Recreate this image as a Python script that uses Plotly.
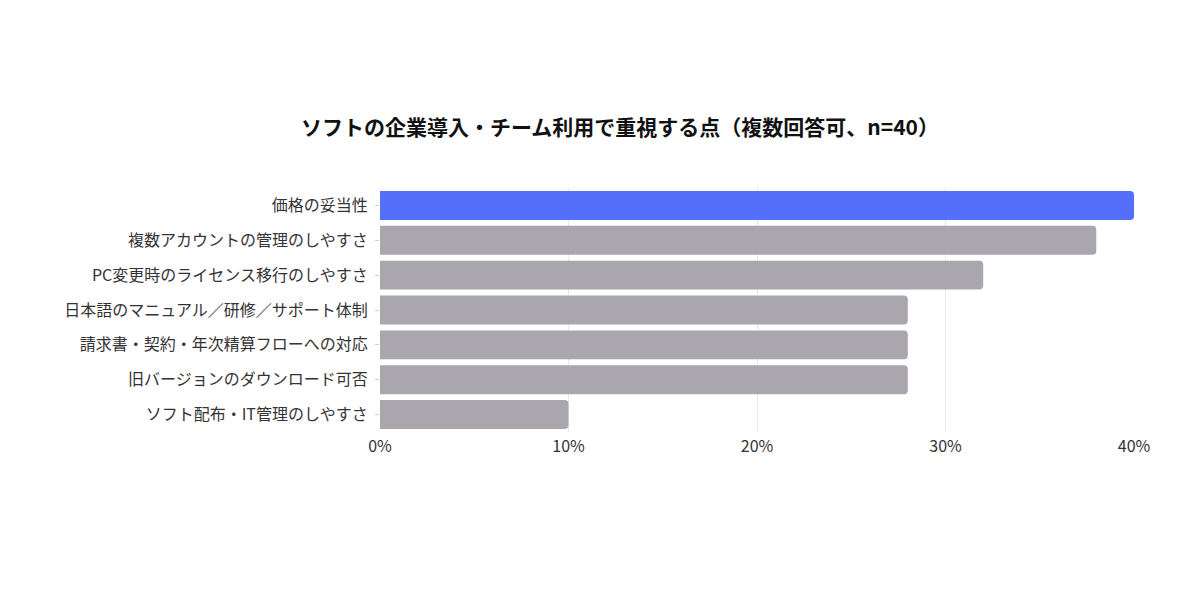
import plotly.graph_objects as go

categories = [
    "価格の妥当性",
    "複数アカウントの管理のしやすさ",
    "PC変更時のライセンス移行のしやすさ",
    "日本語のマニュアル／研修／サポート体制",
    "請求書・契約・年次精算フローへの対応",
    "旧バージョンのダウンロード可否",
    "ソフト配布・IT管理のしやすさ",
]
values = [40, 38, 32, 28, 28, 28, 10]
highlight_color = "#5470FA"
base_color = "#A9A6AD"
colors = [highlight_color] + [base_color] * (len(values) - 1)

fig = go.Figure(
    go.Bar(
        x=values,
        y=categories,
        orientation="h",
        marker=dict(color=colors, cornerradius=4, line=dict(width=0)),
        hovertemplate="%{y}: %{x}%<extra></extra>",
    )
)

fig.update_layout(
    width=1200,
    height=612,
    paper_bgcolor="white",
    plot_bgcolor="white",
    font=dict(family="Noto Sans CJK JP, Noto Sans, sans-serif", size=16, color="#333333"),
    title=dict(
        text="<b>ソフトの企業導入・チーム利用で重視する点（複数回答可、n=40）</b>",
        x=620 / 1200,
        xanchor="center",
        y=1 - 128 / 612,
        yanchor="middle",
        font=dict(size=21, color="#111111"),
    ),
    margin=dict(l=380, r=66, t=188, b=180),
    bargap=0.17,
    showlegend=False,
)

fig.update_xaxes(
    range=[0, 40],
    tickvals=[0, 10, 20, 30, 40],
    ticktext=["0%", "10%", "20%", "30%", "40%"],
    showgrid=True,
    gridcolor="#E8E8EC",
    gridwidth=1,
    zeroline=False,
    showline=False,
    ticks="",
    ticklabelstandoff=3,
    tickfont=dict(size=16, color="#333333"),
)
fig.update_yaxes(
    autorange="reversed",
    showgrid=False,
    ticks="outside",
    ticklen=4,
    tickcolor="#CCCCCC",
    ticklabelstandoff=4,
    tickfont=dict(size=16, color="#333333"),
)

fig.write_html("out.html")
